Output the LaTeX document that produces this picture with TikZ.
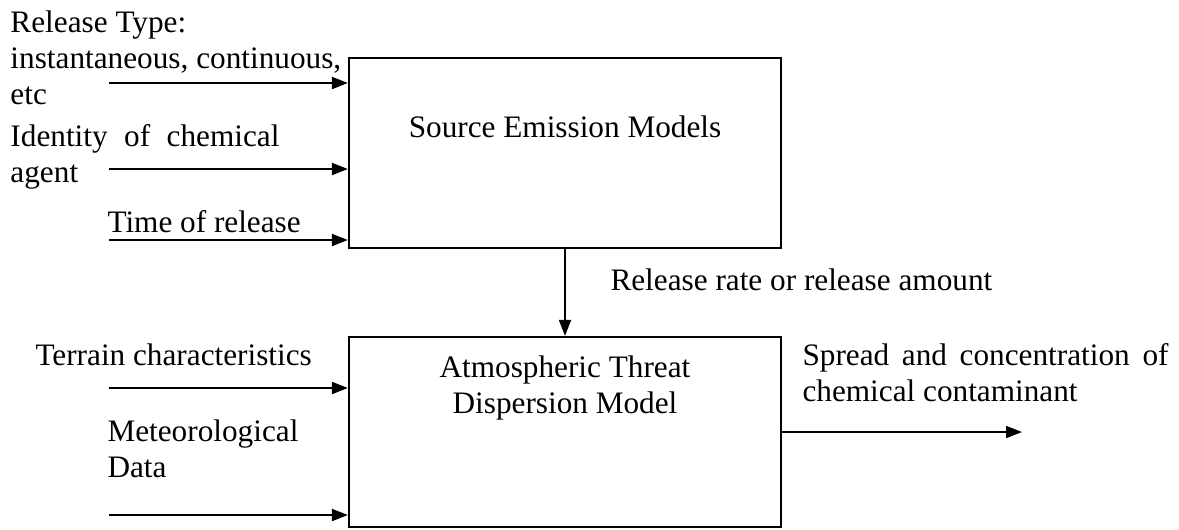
\documentclass[tikz,border=0pt]{standalone}
\usepackage{fontspec}
\setmainfont{Liberation Serif}
\usetikzlibrary{arrows.meta,positioning}

\begin{document}
\begin{tikzpicture}[x=0.4pt,y=-0.4pt,
  txt/.style={inner sep=0pt, font=\fontsize{12.5}{14.4}\selectfont},
  modelbox/.style={draw, line width=0.9pt, minimum width=172.8pt, minimum height=76pt, inner sep=0pt},
  feed/.style={line width=0.8pt, -{Triangle[length=6.4pt,width=4.8pt]}}]
\useasboundingbox (0,0) rectangle (1179,529);

% the two model blocks
\node[modelbox] (src) at (565,153) {};
\node[modelbox] (dsp) at (565,432) {};
\node[txt, anchor=base] (srcName) at (565,137) {Source Emission Models};
% base of a multi-line node = its last line
\node[txt, anchor=base, align=center] (dspName) at (565,413) {Atmospheric Threat\\Dispersion Model};

% inputs of the source block
\node[txt, anchor=base west, align=left] (relType) at (10,104) {Release Type:\\instantaneous, continuous,\\etc};
\node[txt, anchor=base west, text width=107.6pt, align=justify] (agentId) at (10,146) {Identity of chemical agent};
\node[txt, anchor=base west] (relTime) at (107,232) {Time of release};
\coordinate (inType) at (109,83);
\coordinate (inAgent) at (109,169);
\coordinate (inTime) at (109,240);
\foreach \c in {inType,inAgent,inTime}
  \draw[feed] (\c) -- (\c -| src.west);

% inputs of the dispersion block
\node[txt, anchor=base west] (terrain) at (35,365) {Terrain characteristics};
\node[txt, anchor=base west, align=left] (meteo) at (107,477) {Meteorological\\Data};
\coordinate (inTerrain) at (109,388);
\coordinate (inMeteo) at (109,515);
\foreach \c in {inTerrain,inMeteo}
  \draw[feed] (\c) -- (\c -| dsp.west);

% link between blocks and the output
\draw[feed] (src.south) -- (dsp.north);
\node[txt, anchor=base west] (relRate) at (610,290) {Release rate or release amount};
\coordinate (outSpread) at (1022,432);
\draw[feed] (dsp.east) -- (outSpread);
\node[txt, anchor=base west, text width=146.4pt, align=justify] (spread) at (802,365) {Spread and concentration of chemical contaminant};
\end{tikzpicture}
\end{document}
